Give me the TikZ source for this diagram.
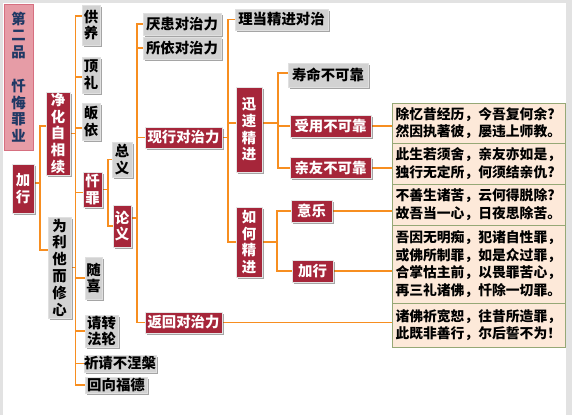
\documentclass[tikz,border=0pt]{standalone}
\usepackage{fontspec}
\setmainfont{Noto Sans CJK SC}
\usetikzlibrary{shadows}
\definecolor{nred}{RGB}{166,38,58}
\definecolor{ngray}{RGB}{210,210,210}
\definecolor{npink}{RGB}{230,156,166}
\definecolor{npinkb}{RGB}{214,112,128}
\definecolor{navy}{RGB}{31,56,100}
\definecolor{conorange}{RGB}{247,142,32}
\definecolor{beige}{RGB}{253,233,217}
\definecolor{beigeb}{RGB}{150,168,118}
\definecolor{outergray}{RGB}{226,226,226}
\newcommand{\lblfont}{\fontsize{14.4}{16.8}\selectfont\bfseries}
\newcommand{\boxfont}{\fontsize{13.8}{17.5}\selectfont\bfseries}
\pgfdeclarelayer{bgfill}
\pgfdeclarelayer{background}
\pgfsetlayers{bgfill,background,main}
\begin{document}
\begin{tikzpicture}[x=1pt,y=-1pt,
  nbox/.style={inner sep=0pt, align=center, font=\lblfont,
    drop shadow={shadow xshift=1.5pt, shadow yshift=-1.5pt, opacity=0.5, fill=black!70}},
  grayb/.style={nbox, fill=ngray, draw=white!88!black, line width=0.5pt, text=black},
  redb/.style={nbox, fill=nred, draw=white!90!black, line width=0.8pt, text=white},
  titleb/.style={inner sep=0pt, align=center, font=\lblfont, fill=npink, draw=npinkb, line width=1pt, text=navy},
  tbox/.style={fill=beige, draw=beigeb, line width=0.8pt, font=\boxfont, align=left,
    inner xsep=3.5pt, inner ysep=0pt, text width=166pt},
  conn/.style={draw=conorange, line width=1.8pt, line cap=rect}]
\useasboundingbox (0,0) rectangle (572,415);
\begin{pgfonlayer}{bgfill}
  \fill[outergray] (0,0) rectangle (572,415);
  \fill[white] (2.5,2.5) rectangle (566,415);
\end{pgfonlayer}

% bus coordinates
\coordinate (bA) at (40,0);
\coordinate (bB) at (75.5,0);
\coordinate (bC) at (108,0);
\coordinate (bD) at (137,0);
\coordinate (bE) at (228,0);
\coordinate (bF) at (278,0);
\coordinate (bG) at (277,0);

% nodes
\node[titleb, minimum width=29pt, minimum height=146pt] (title) at (18.5,77) {第\\二\\品\\\mbox{}\\忏\\悔\\罪\\业};
\node[redb, minimum width=22pt, minimum height=49pt] (jx1) at (23,188.5) {加\\行};
\node[redb, minimum width=24pt, minimum height=83pt] (jh) at (58,133.5) {净\\化\\自\\相\\续};
\node[grayb, minimum width=23pt, minimum height=101pt] (wl) at (59.5,267.5) {为\\利\\他\\而\\修\\心};
\node[grayb, minimum width=18pt, minimum height=40pt] (gy) at (91,25) {供\\养};
\node[grayb, minimum width=18pt, minimum height=36pt] (dl) at (91,75) {顶\\礼};
\node[grayb, minimum width=18pt, minimum height=37pt] (gyi) at (91,121.5) {皈\\依};
\node[redb, minimum width=19pt, minimum height=35pt] (cz) at (92.5,189.5) {忏\\罪};
\node[grayb, minimum width=20pt, minimum height=35pt] (zy) at (122,159.5) {总\\义};
\node[redb, minimum width=18pt, minimum height=42pt] (ly) at (122,226) {论\\义};
\node[grayb, minimum width=17pt, minimum height=42pt] (sx) at (93.5,278) {随\\喜};
\node[grayb, minimum width=33pt, minimum height=32pt] (qz) at (101.5,331) {请转\\法轮};
\node[grayb, minimum width=70pt, minimum height=17pt] (qq) at (120,363.5) {祈请不涅槃};
\node[grayb, minimum width=62pt, minimum height=16pt] (hx) at (116,385) {回向福德};
\node[grayb, minimum width=78pt, minimum height=22pt] (yh) at (182,24) {厌患对治力};
\node[grayb, minimum width=78pt, minimum height=22pt] (sy) at (182,48) {所依对治力};
\node[redb, minimum width=77pt, minimum height=21pt] (xx) at (183.5,137.5) {现行对治力};
\node[redb, minimum width=77pt, minimum height=21pt] (fh) at (183.5,322.5) {返回对治力};
\node[grayb, minimum width=93pt, minimum height=21pt] (ld) at (281.5,19.5) {理当精进对治};
\node[redb, minimum width=26pt, minimum height=85pt] (xs) at (249,129.5) {迅\\速\\精\\进};
\node[redb, minimum width=26pt, minimum height=70pt] (rh) at (249,242) {如\\何\\精\\进};
\node[grayb, minimum width=80pt, minimum height=24pt] (sm) at (328,75) {寿命不可靠};
\node[redb, minimum width=81pt, minimum height=22pt] (syo) at (330.5,126) {受用不可靠};
\node[redb, minimum width=81pt, minimum height=21pt] (qy) at (330.5,168) {亲友不可靠};
\node[redb, minimum width=41pt, minimum height=22pt] (yl) at (311.5,211) {意乐};
\node[redb, minimum width=41pt, minimum height=22pt] (jx2) at (312.5,271) {加行};

\node[tbox, minimum height=40pt] (t1) at (478.5,123) {除忆昔经历，今吾复何余?\\然因执著彼，屡违上师教。};
\node[tbox, minimum height=41pt] (t2) at (478.5,163.5) {此生若须舍，亲友亦如是，\\独行无定所，何须结亲仇?};
\node[tbox, minimum height=41pt] (t3) at (478.5,204.5) {不善生诸苦，云何得脱除?\\故吾当一心，日夜思除苦。};
\node[tbox, minimum height=78pt] (t4) at (478.5,264) {吾因无明痴，犯诸自性罪，\\或佛所制罪，如是众过罪，\\合掌怙主前，以畏罪苦心，\\再三礼诸佛，忏除一切罪。};
\node[tbox, minimum height=44pt] (t5) at (478.5,325) {诸佛祈宽恕，往昔所造罪，\\此既非善行，尔后誓不为！};

% connectors
\begin{pgfonlayer}{background}
  % 加行
  \draw[conn] ([yshift=5.5pt]jx1.east) -- ([yshift=5.5pt]jx1.east -| bA);
  \draw[conn] ([yshift=7.5pt]jh.west -| bA) -- ([yshift=17.5pt]wl.west -| bA);
  \draw[conn] ([yshift=7.5pt]jh.west -| bA) -- ([yshift=7.5pt]jh.west);
  \draw[conn] ([yshift=17.5pt]wl.west -| bA) -- ([yshift=17.5pt]wl.west);
  % 净化自相续
  \draw[conn] (jh.east) -- (jh.east -| bB);
  \draw[conn] ([yshift=9pt]gy.west -| bB) -- (cz.west -| bB);
  \draw[conn] ([yshift=9pt]gy.west -| bB) -- ([yshift=9pt]gy.west);
  \draw[conn] ([yshift=-2pt]dl.west -| bB) -- ([yshift=-2pt]dl.west);
  \draw[conn] ([yshift=-6.5pt]gyi.west -| bB) -- ([yshift=-6.5pt]gyi.west);
  \draw[conn] ([yshift=-3pt]cz.west -| bB) -- ([yshift=-3pt]cz.west);
  % 为利他而修心
  \draw[conn] (wl.east) -- (wl.east -| bB);
  \draw[conn] (cz.west -| bB) -- (hx.west -| bB);
  \foreach \c in {sx,qz,qq,hx} \draw[conn] (\c.west -| bB) -- (\c.west);
  % 忏罪
  \draw[conn] (cz.east) -- (cz.east -| bC);
  \draw[conn] (zy.west -| bC) -- (ly.west -| bC);
  \foreach \c in {zy,ly} \draw[conn] (\c.west -| bC) -- (\c.west);
  % 论义
  \draw[conn] ([yshift=8pt]ly.east) -- ([yshift=8pt]ly.east -| bD);
  \draw[conn] (yh.west -| bD) -- (fh.west -| bD);
  \foreach \c in {yh,sy,xx,fh} \draw[conn] (\c.west -| bD) -- (\c.west);
  % 现行对治力
  \draw[conn] (xx.east) -- (xx.east -| bE);
  \draw[conn] (ld.west -| bE) -- (rh.west -| bE);
  \draw[conn] (ld.west -| bE) -- (ld.west);
  \draw[conn] ([yshift=6.5pt]xs.west -| bE) -- ([yshift=6.5pt]xs.west);
  \draw[conn] (rh.west -| bE) -- (rh.west);
  % 迅速精进
  \draw[conn] ([yshift=6.5pt]xs.east) -- ([yshift=6.5pt]xs.east -| bF);
  \draw[conn] ([yshift=2pt]sm.west -| bF) -- (qy.west -| bF);
  \draw[conn] ([yshift=2pt]sm.west -| bF) -- ([yshift=2pt]sm.west);
  \foreach \c in {syo,qy} \draw[conn] (\c.west -| bF) -- (\c.west);
  % 如何精进
  \draw[conn] (rh.east) -- (rh.east -| bG);
  \draw[conn] (yl.west -| bG) -- (jx2.west -| bG);
  \foreach \c in {yl,jx2} \draw[conn] (\c.west -| bG) -- (\c.west);
  % to verse boxes
  \draw[conn] (syo.east) -- (syo.east -| t1.west);
  \draw[conn] (qy.east) -- (qy.east -| t2.west);
  \draw[conn] (yl.east) -- (yl.east -| t3.west);
  \draw[conn] (jx2.east) -- (jx2.east -| t4.west);
  \draw[conn] (fh.east) -- (fh.east -| t5.west);
\end{pgfonlayer}
\end{tikzpicture}
\end{document}
